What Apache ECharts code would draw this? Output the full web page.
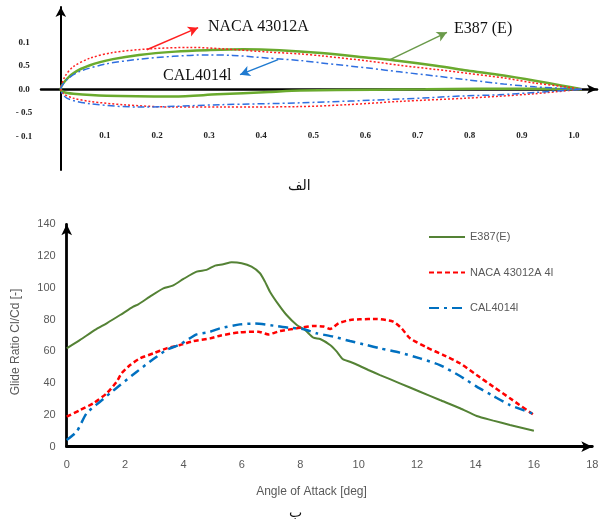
<!DOCTYPE html>
<html>
<head>
<meta charset="utf-8">
<script src="https://cdn.jsdelivr.net/npm/echarts@6/dist/echarts.min.js"></script>
<style>
html, body { margin: 0; padding: 0; background: #fff; }
#main { width: 601px; height: 524px; }
</style>
</head>
<body>
<div id="main"></div>
<script>
// airfoil outlines, [x/c, y/c], leading edge to trailing edge
var e387Upper = [[0,0],[0.005,0.013],[0.024,0.034],[0.056,0.051],[0.1,0.064],[0.15,0.073],[0.22,0.080],[0.28,0.083],[0.35,0.085],[0.42,0.083],[0.5,0.077],[0.59,0.067],[0.65,0.060],[0.72,0.050],[0.78,0.040],[0.85,0.029],[0.91,0.018],[0.96,0.008],[1,0]];
var e387Lower = [[0,0],[0.005,-0.006],[0.024,-0.0096],[0.088,-0.0138],[0.216,-0.0153],[0.3,-0.011],[0.4,-0.006],[0.46,-0.003],[0.6,-0.001],[0.7,0],[0.8,0.001],[0.9,0.001],[1,0]];
var nacaUpper = [[0,0],[0.008,0.027],[0.024,0.048],[0.056,0.066],[0.1,0.078],[0.165,0.0855],[0.25,0.089],[0.31,0.086],[0.4,0.079],[0.46,0.075],[0.5,0.071],[0.59,0.060],[0.65,0.051],[0.72,0.042],[0.78,0.034],[0.85,0.024],[0.91,0.013],[0.96,0.006],[1,0]];
var nacaLower = [[0,0],[0.005,-0.0096],[0.024,-0.019],[0.056,-0.026],[0.12,-0.033],[0.216,-0.038],[0.306,-0.038],[0.46,-0.037],[0.55,-0.033],[0.65,-0.026],[0.78,-0.019],[0.84,-0.015],[0.91,-0.0096],[1,0]];
var calUpper = [[0,0],[0.0115,0.020],[0.037,0.038],[0.088,0.054],[0.152,0.064],[0.216,0.070],[0.28,0.073],[0.33,0.072],[0.4,0.066],[0.46,0.061],[0.5,0.056],[0.59,0.045],[0.65,0.037],[0.72,0.028],[0.78,0.020],[0.85,0.011],[0.91,0.005],[1,0]];
var calLower = [[0,0],[0.0115,-0.019],[0.056,-0.031],[0.152,-0.038],[0.306,-0.033],[0.46,-0.029],[0.65,-0.021],[0.78,-0.014],[0.84,-0.012],[0.91,-0.007],[1,0]];

// glide ratio Cl/Cd vs angle of attack [deg]
var glideE387 = [[0,61.9],[0.46,67.2],[0.97,73.5],[1.37,77.7],[1.83,82.9],[2.28,88.2],[2.45,89.6],[2.85,94.5],[3.31,99.7],[3.63,101.4],[4.0,105.6],[4.45,110.2],[4.79,111.3],[5.08,114.0],[5.36,114.8],[5.65,116.1],[5.99,115.5],[6.33,113.3],[6.62,109.2],[6.79,103.9],[6.96,97.6],[7.25,89.6],[7.53,82.9],[7.88,76.6],[8.16,73.5],[8.45,68.6],[8.68,67.8],[9.02,64.0],[9.25,59.8],[9.45,55.2],[9.7,53.5],[10.04,50.8],[10.33,48.3],[10.73,45.1],[11.41,39.9],[12.1,34.6],[12.78,29.4],[13.47,24.2],[14.04,19.3],[14.61,16.4],[15.18,13.7],[16,10.1]];
var glideNaca = [[0,18.9],[0.46,23.1],[0.91,27.3],[1.37,33.6],[1.71,40.9],[1.88,46.2],[2.17,51.4],[2.51,55.6],[2.97,58.8],[3.42,61.9],[3.88,64.0],[4.34,66.5],[4.91,68.2],[5.25,69.9],[5.93,72.0],[6.56,72.4],[6.9,70.7],[7.3,72.8],[7.88,74.5],[8.45,76.0],[8.8,75.6],[9.02,74.1],[9.31,77.7],[9.71,79.8],[10.04,80.2],[10.62,80.4],[11.18,78.7],[11.47,74.5],[11.76,68.2],[12.33,62.5],[12.9,57.7],[13.47,52.5],[14.04,45.1],[14.61,37.8],[15.18,30.5],[16,20.0]];
var glideCal = [[0,4.2],[0.34,9.4],[0.68,21.0],[1.14,28.3],[1.48,33.6],[1.83,38.8],[2.4,47.2],[2.97,55.2],[3.42,60.9],[3.88,64.4],[4.45,70.7],[4.85,72.0],[5.25,74.5],[5.93,77.0],[6.45,77.5],[7.08,76.2],[7.59,74.9],[8.1,74.1],[8.56,71.4],[9.13,69.3],[9.7,66.5],[10.27,64.0],[10.73,61.9],[11.41,59.2],[12.1,55.6],[12.78,51.4],[13.47,44.5],[14.04,37.8],[14.61,31.9],[15.18,26.2],[16,20.6]];

// tick labels of the profile plot (as printed in the figure)
var profileXTicks = [0.1, 0.2, 0.3, 0.4, 0.5, 0.6, 0.7, 0.8, 0.9, 1.0];
var profileXLabels = ['0.1', '0.2', '0.3', '0.4', '0.5', '0.6', '0.7', '0.8', '0.9', '1.0'];
var profileYTicks = [0.1, 0.05, 0, -0.05, -0.1];
var profileYLabels = ['0.1', '0.5', '0.0', '- 0.5', '- 0.1'];
var glideNames = ['E387(E)', 'NACA 43012A 4l', 'CAL4014l'];

var green = '#6aaa2e', red = '#ff2020', blue = '#2f6fe0';

function outline(upper, lower) {
    return upper.slice().reverse().concat(lower.slice(1));
}
function lookup(ticks, labels) {
    return function (v) {
        for (var i = 0; i < ticks.length; i++) {
            if (Math.abs(ticks[i] - v) < 1e-6) return labels[i];
        }
        return '';
    };
}
function arrow(color, from, to) {
    return {
        silent: true,
        symbol: ['none', 'arrow'],
        symbolSize: [8, 10],
        label: { show: false },
        lineStyle: { color: color, type: 'solid', width: 1.5 },
        data: [[{ coord: from }, { coord: to }]]
    };
}

var myChart = echarts.init(document.getElementById('main'));

var option = {
    animation: false,
    grid: [
        { left: 41, right: 4, top: 7, height: 163, outerBoundsMode: 'none' },
        { left: 66.7, right: 8.7, top: 224.3, bottom: 77.3, outerBoundsMode: 'none' }
    ],
    legend: {
        data: glideNames,
        orient: 'vertical',
        left: 428,
        top: 231.5,
        padding: 0,
        itemWidth: 36,
        itemHeight: 12,
        itemGap: 24.5,
        itemStyle: { opacity: 0 },
        textStyle: { color: '#595959', fontSize: 11, fontFamily: 'Liberation Sans' }
    },
    xAxis: [
        {
            gridIndex: 0,
            type: 'value',
            min: -0.038,
            max: 1.029,
            splitLine: { show: false },
            axisTick: { show: false },
            axisLine: { onZero: true, symbol: ['none', 'arrow'], symbolSize: [7, 10], lineStyle: { color: '#000', width: 2.5 } },
            axisLabel: {
                customValues: profileXTicks,
                formatter: lookup(profileXTicks, profileXLabels),
                margin: -39,
                padding: [0, 16, 0, 0],
                color: '#222',
                fontSize: 9,
                fontWeight: 'bold',
                fontFamily: 'Liberation Serif'
            }
        },
        {
            gridIndex: 1,
            type: 'value',
            min: 0,
            max: 18,
            interval: 2,
            name: 'Angle of Attack [deg]',
            nameLocation: 'middle',
            nameGap: 39,
            nameTextStyle: { color: '#595959', fontSize: 12, fontFamily: 'Liberation Sans', padding: [0, 36, 0, 0] },
            splitLine: { show: false },
            axisTick: { show: false },
            axisLine: { symbol: ['none', 'arrow'], symbolSize: [8, 11], lineStyle: { color: '#000', width: 2.8 } },
            axisLabel: { color: '#595959', fontSize: 11, fontFamily: 'Liberation Sans', margin: 13 }
        }
    ],
    yAxis: [
        {
            gridIndex: 0,
            type: 'value',
            min: -0.172,
            max: 0.175,
            splitLine: { show: false },
            axisTick: { show: false },
            axisLine: { onZero: true, symbol: ['none', 'arrow'], symbolSize: [8, 10], lineStyle: { color: '#000', width: 2 } },
            axisLabel: {
                customValues: profileYTicks,
                formatter: lookup(profileYTicks, profileYLabels),
                align: 'center',
                margin: 17,
                color: '#222',
                fontSize: 9,
                fontWeight: 'bold',
                fontFamily: 'Liberation Serif'
            }
        },
        {
            gridIndex: 1,
            type: 'value',
            min: 0,
            max: 140,
            interval: 20,
            name: 'Glide Ratio Cl/Cd [-]',
            nameLocation: 'middle',
            nameGap: 45,
            nameTextStyle: { color: '#595959', fontSize: 12, fontFamily: 'Liberation Sans', padding: [0, 13, 0, 0] },
            splitLine: { show: false },
            axisTick: { show: false },
            axisLine: { symbol: ['none', 'arrow'], symbolSize: [8, 11], lineStyle: { color: '#000', width: 2.8 } },
            axisLabel: { color: '#595959', fontSize: 11, fontFamily: 'Liberation Sans', margin: 11 }
        }
    ],
    graphic: [
        { type: 'text', left: 208, top: 19, style: { text: 'NACA 43012A', font: '16px "Liberation Serif"', fill: '#111' } },
        { type: 'text', left: 454, top: 21, style: { text: 'E387 (E)', font: '16px "Liberation Serif"', fill: '#111' } },
        { type: 'text', left: 163, top: 68, style: { text: 'CAL4014l', font: '16px "Liberation Serif"', fill: '#111' } },
        { type: 'text', left: 288, top: 179, style: { text: 'الف', font: '14px "DejaVu Sans"', fill: '#111' } },
        { type: 'text', left: 289, top: 506, style: { text: 'ب', font: '14px "DejaVu Sans"', fill: '#111' } }
    ],
    series: [
        {
            name: 'E387 profile',
            type: 'line',
            xAxisIndex: 0, yAxisIndex: 0,
            symbol: 'none',
            smooth: 0.3,
            lineStyle: { color: green, width: 2.5 },
            data: outline(e387Upper, e387Lower),
            markLine: arrow('#6a9a4a', [0.632, 0.063], [0.741, 0.121])
        },
        {
            name: 'NACA profile',
            type: 'line',
            xAxisIndex: 0, yAxisIndex: 0,
            symbol: 'none',
            smooth: 0.3,
            lineStyle: { color: red, width: 1.5, type: [2, 2] },
            data: outline(nacaUpper, nacaLower),
            markLine: arrow('#ff2020', [0.165, 0.084], [0.2635, 0.131])
        },
        {
            name: 'CAL profile',
            type: 'line',
            xAxisIndex: 0, yAxisIndex: 0,
            symbol: 'none',
            smooth: 0.3,
            lineStyle: { color: blue, width: 1.5, type: [7, 3, 2, 3] },
            data: outline(calUpper, calLower),
            markLine: arrow('#1f7ad0', [0.417, 0.063], [0.344, 0.031])
        },
        {
            name: glideNames[0],
            type: 'line',
            xAxisIndex: 1, yAxisIndex: 1,
            symbol: 'none',
            smooth: 0.2,
            color: '#548235',
            lineStyle: { color: '#548235', width: 2 },
            data: glideE387
        },
        {
            name: glideNames[1],
            type: 'line',
            xAxisIndex: 1, yAxisIndex: 1,
            symbol: 'none',
            smooth: 0.2,
            color: '#ff0000',
            lineStyle: { color: '#ff0000', width: 2.5, type: [5, 3] },
            data: glideNaca
        },
        {
            name: glideNames[2],
            type: 'line',
            xAxisIndex: 1, yAxisIndex: 1,
            symbol: 'none',
            smooth: 0.2,
            color: '#0070c0',
            lineStyle: { color: '#0070c0', width: 2.5, type: [10, 5, 3, 5] },
            data: glideCal
        }
    ]
};

myChart.setOption(option);
</script>
</body>
</html>
